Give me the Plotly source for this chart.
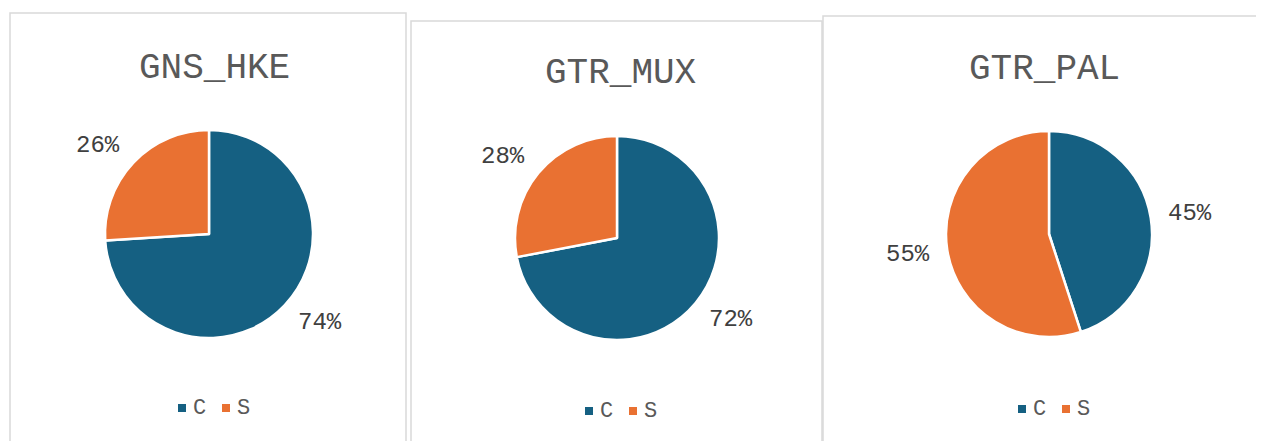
import math
import plotly.graph_objects as go

# ---- data ----
titles = ["GNS_HKE", "GTR_MUX", "GTR_PAL"]
categories = ["C", "S"]
values_gns_hke = [74, 26]
values_gtr_mux = [72, 28]
values_gtr_pal = [45, 55]
series = [values_gns_hke, values_gtr_mux, values_gtr_pal]
colors = ["#156082", "#E97132"]

# ---- layout geometry (screen pixels) ----
OFF = 8                       # page body margin
W, H = 1256, 433              # figure size
pies = [(209, 234, 104), (617, 238, 102), (1049, 234, 103)]   # cx, cy, r
title_pos = [(214, 68), (620, 74), (1044, 70)]
legend_pos = [(178, 408), (585, 411), (1018, 409)]             # left x, center y
boxes = [(10, 13, 406), (411, 21, 822), (823, 16, 1300)]       # x0, y_top, x1
FONT = "Liberation Mono, Courier New, monospace"
LABEL_SIZE = 24

def px(x):
    return (x - OFF) / W

def py(y):
    return 1 - (y - OFF) / H

fig = go.Figure()
annotations = []
shapes = []

for i, (title, vals) in enumerate(zip(titles, series)):
    cx, cy, r = pies[i]
    fig.add_trace(go.Pie(
        labels=categories,
        values=vals,
        sort=False,
        direction="clockwise",
        rotation=0,
        marker=dict(colors=colors, line=dict(color="white", width=2.5)),
        textinfo="none",
        hoverinfo="label+percent",
        domain=dict(x=[px(cx - r), px(cx + r)], y=[py(cy + r), py(cy - r)]),
        showlegend=False,
    ))
    # percent labels outside each slice
    total = sum(vals)
    cum = 0
    for v in vals:
        theta = 2 * math.pi * (cum + v / 2) / total
        cum += v
        ux, uy = math.sin(theta), -math.cos(theta)
        txt = f"{round(100 * v / total)}%"
        hw = 0.6 * LABEL_SIZE * len(txt) / 2
        lx = cx + (r + 18) * ux + hw * (1 if ux >= 0 else -1)
        ly = cy + (r + 18) * uy + 8 * uy
        annotations.append(dict(
            x=px(lx), y=py(ly), xref="paper", yref="paper",
            text=txt, showarrow=False,
            xanchor="center", yanchor="middle",
            font=dict(family=FONT, size=LABEL_SIZE, color="#404040"),
        ))
    # title
    tx, ty = title_pos[i]
    annotations.append(dict(
        x=px(tx), y=py(ty), xref="paper", yref="paper", text=title,
        showarrow=False, xanchor="center", yanchor="middle",
        font=dict(family=FONT, size=36, color="#595959"),
    ))
    # legend (square marker + label per category)
    lgx, lgy = legend_pos[i]
    for j, cat in enumerate(categories):
        sx = lgx + 44 * j
        shapes.append(dict(
            type="rect", xref="paper", yref="paper",
            x0=px(sx), x1=px(sx + 8), y0=py(lgy + 4), y1=py(lgy - 4),
            line=dict(width=0), fillcolor=colors[j],
        ))
        annotations.append(dict(
            x=px(sx + 13), y=py(lgy), xref="paper", yref="paper", text=cat,
            showarrow=False, xanchor="left", yanchor="middle",
            font=dict(family=FONT, size=22, color="#595959"),
        ))
    # panel box
    bx0, btop, bx1 = boxes[i]
    shapes.append(dict(
        type="rect", xref="paper", yref="paper",
        x0=px(bx0), x1=px(bx1), y0=-0.2, y1=py(btop),
        line=dict(color="#d9d9d9", width=1.5), fillcolor="rgba(0,0,0,0)",
        layer="below",
    ))

fig.update_layout(
    width=W, height=H,
    margin=dict(l=0, r=0, t=0, b=0),
    paper_bgcolor="white", plot_bgcolor="white",
    annotations=annotations, shapes=shapes,
    showlegend=False,
)

fig.write_html("out.html")
